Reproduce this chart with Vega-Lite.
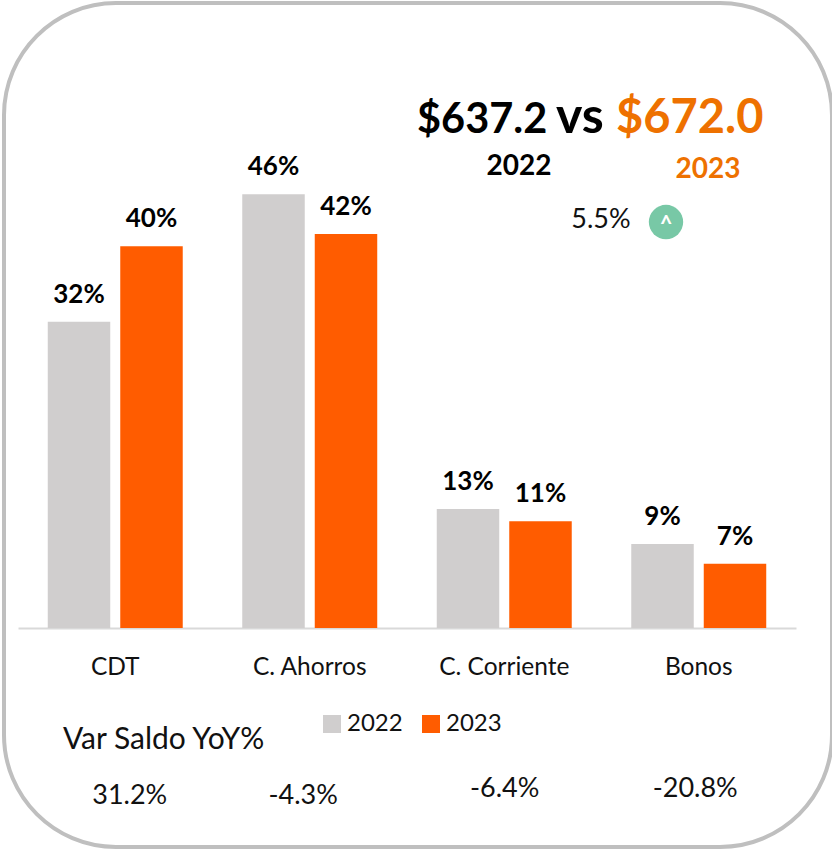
{
"$schema":"https://vega.github.io/schema/vega-lite/v6.json",
"autosize":"none","width":828,"height":844,
"padding":{"left":4,"top":3,"right":0,"bottom":3},
"background":"white",
"view":{"stroke":"#BFBFBF","strokeWidth":4,"cornerRadius":112,"fill":"white"},
"config":{"font":"Lato","text":{"font":"Lato"}},
"datasets":{
"shares":[
{"category":"CDT","year":"2022","share":0.324},{"category":"CDT","year":"2023","share":0.404},
{"category":"C. Ahorros","year":"2022","share":0.459},{"category":"C. Ahorros","year":"2023","share":0.417},
{"category":"C. Corriente","year":"2022","share":0.126},{"category":"C. Corriente","year":"2023","share":0.113},
{"category":"Bonos","year":"2022","share":0.089},{"category":"Bonos","year":"2023","share":0.068}],
"yoy":[{"category":"CDT","yoy":"31.2%"},{"category":"C. Ahorros","yoy":"-4.3%"},{"category":"C. Corriente","yoy":"-6.4%"},{"category":"Bonos","yoy":"-20.8%"}]
},
"resolve":{"scale":{"x":"independent"}},
"layer":[
{"data":{"name":"shares"},
 "encoding":{
  "x":{"field":"category","type":"nominal","sort":null,"scale":{"domain":["CDT","C. Ahorros","C. Corriente","Bonos"],"range":[14,792],"paddingInner":0.306,"paddingOuter":0.153},
   "axis":{"title":null,"offset":-219,"ticks":false,"domainColor":"#D9D9D9","domainWidth":2,"labelAngle":0,"labelFontSize":24.5,"labelColor":"#111111","labelPadding":27,"labelFont":"Lato","grid":false}},
  "xOffset":{"field":"year","type":"nominal","scale":{"domain":["2022","2023"],"paddingInner":0.138,"paddingOuter":0}},
  "y":{"field":"share","type":"quantitative","scale":{"domain":[-0.23175,0.66138],"range":[844,0],"nice":false,"zero":false},"axis":null}
 },
 "layer":[
  {"mark":{"type":"bar"},"encoding":{"y2":{"datum":0},"color":{"field":"year","type":"nominal","scale":{"domain":["2022","2023"],"range":["#D0CECE","#FF5C00"]},
    "legend":{"title":null,"orient":"none","legendX":316,"legendY":709,"direction":"horizontal","symbolType":"square","symbolSize":324,"symbolStrokeWidth":0,"labelFontSize":24,"labelColor":"#111111","labelFont":"Lato","columns":2,"columnPadding":16,"labelOffset":3}}}},
  {"mark":{"type":"text","fontSize":26,"fontWeight":"bold","color":"#000000","dy":-19,"baseline":"alphabetic"},"encoding":{"text":{"field":"share","type":"quantitative","format":".0%"}}}
 ]},
{"data":{"values":[{"t":"$637.2"}]},"mark":{"type":"text","fontSize":41.5,"fontWeight":"bold","color":"#000000","align":"left","baseline":"alphabetic"},
 "encoding":{"x":{"datum":417,"type":"quantitative","scale":{"domain":[0,832],"range":[-4,828]},"axis":null},"y":{"datum":0.5238,"type":"quantitative","scale":{"domain":[-0.23175,0.66138],"range":[844,0],"nice":false,"zero":false},"axis":null},"text":{"field":"t"}}},
{"data":{"values":[{"t":"vs"}]},"mark":{"type":"text","fontSize":50,"fontWeight":"bold","color":"#000000","align":"left","baseline":"alphabetic"},
 "encoding":{"x":{"datum":556,"type":"quantitative","scale":{"domain":[0,832],"range":[-4,828]},"axis":null},"y":{"datum":0.5238,"type":"quantitative","scale":{"domain":[-0.23175,0.66138],"range":[844,0],"nice":false,"zero":false},"axis":null},"text":{"field":"t"}}},
{"data":{"values":[{"t":"$672.0"}]},"mark":{"type":"text","fontSize":47,"fontWeight":"bold","color":"#EE7100","align":"left","baseline":"alphabetic"},
 "encoding":{"x":{"datum":616,"type":"quantitative","scale":{"domain":[0,832],"range":[-4,828]},"axis":null},"y":{"datum":0.5238,"type":"quantitative","scale":{"domain":[-0.23175,0.66138],"range":[844,0],"nice":false,"zero":false},"axis":null},"text":{"field":"t"}}},
{"data":{"values":[{"t":"2022"}]},"mark":{"type":"text","fontSize":28,"fontWeight":"bold","color":"#000000","baseline":"alphabetic"},
 "encoding":{"x":{"datum":519,"type":"quantitative","scale":{"domain":[0,832],"range":[-4,828]},"axis":null},"y":{"datum":0.4794,"type":"quantitative","scale":{"domain":[-0.23175,0.66138],"range":[844,0],"nice":false,"zero":false},"axis":null},"text":{"field":"t"}}},
{"data":{"values":[{"t":"2023"}]},"mark":{"type":"text","fontSize":28,"fontWeight":"bold","color":"#EE7100","baseline":"alphabetic"},
 "encoding":{"x":{"datum":708,"type":"quantitative","scale":{"domain":[0,832],"range":[-4,828]},"axis":null},"y":{"datum":0.4762,"type":"quantitative","scale":{"domain":[-0.23175,0.66138],"range":[844,0],"nice":false,"zero":false},"axis":null},"text":{"field":"t"}}},
{"data":{"values":[{"t":"5.5%"}]},"mark":{"type":"text","fontSize":27,"color":"#111111","baseline":"alphabetic"},
 "encoding":{"x":{"datum":601,"type":"quantitative","scale":{"domain":[0,832],"range":[-4,828]},"axis":null},"y":{"datum":0.4233,"type":"quantitative","scale":{"domain":[-0.23175,0.66138],"range":[844,0],"nice":false,"zero":false},"axis":null},"text":{"field":"t"}}},
{"data":{"values":[{"t":"up"}]},"mark":{"type":"point","shape":"circle","filled":true,"size":1180,"opacity":1,"color":"#78C8A6"},
 "encoding":{"x":{"datum":666,"type":"quantitative","scale":{"domain":[0,832],"range":[-4,828]},"axis":null},"y":{"datum":0.4296,"type":"quantitative","scale":{"domain":[-0.23175,0.66138],"range":[844,0],"nice":false,"zero":false},"axis":null}}},
{"data":{"values":[{"t":"^"}]},"mark":{"type":"text","fontSize":22,"fontWeight":"bold","color":"#FFFFFF","baseline":"alphabetic"},
 "encoding":{"x":{"datum":666,"type":"quantitative","scale":{"domain":[0,832],"range":[-4,828]},"axis":null},"y":{"datum":0.4191,"type":"quantitative","scale":{"domain":[-0.23175,0.66138],"range":[844,0],"nice":false,"zero":false},"axis":null},"text":{"field":"t"}}},
{"data":{"values":[{"t":"Var Saldo YoY%"}]},"mark":{"type":"text","fontSize":30,"color":"#111111","align":"left","baseline":"alphabetic"},
 "encoding":{"x":{"datum":63,"type":"quantitative","scale":{"domain":[0,832],"range":[-4,828]},"axis":null},"y":{"datum":-0.128,"type":"quantitative","scale":{"domain":[-0.23175,0.66138],"range":[844,0],"nice":false,"zero":false},"axis":null},"text":{"field":"t"}}},
{"data":{"name":"yoy"},"transform":[{"filter":"datum.category==='CDT'"}],"mark":{"type":"text","fontSize":27,"color":"#111111","baseline":"alphabetic","dx":14.5},
 "encoding":{"x":{"field":"category","type":"nominal","sort":null,"scale":{"domain":["CDT","C. Ahorros","C. Corriente","Bonos"],"range":[14,792],"paddingInner":0.306,"paddingOuter":0.153},"axis":null},"y":{"datum":-0.1862,"type":"quantitative","scale":{"domain":[-0.23175,0.66138],"range":[844,0],"nice":false,"zero":false},"axis":null},"text":{"field":"yoy"}}},
{"data":{"name":"yoy"},"transform":[{"filter":"datum.category==='C. Ahorros'"}],"mark":{"type":"text","fontSize":27,"color":"#111111","baseline":"alphabetic","dx":-6.5},
 "encoding":{"x":{"field":"category","type":"nominal","sort":null,"scale":{"domain":["CDT","C. Ahorros","C. Corriente","Bonos"],"range":[14,792],"paddingInner":0.306,"paddingOuter":0.153},"axis":null},"y":{"datum":-0.1862,"type":"quantitative","scale":{"domain":[-0.23175,0.66138],"range":[844,0],"nice":false,"zero":false},"axis":null},"text":{"field":"yoy"}}},
{"data":{"name":"yoy"},"transform":[{"filter":"datum.category==='C. Corriente'"}],"mark":{"type":"text","fontSize":27,"color":"#111111","baseline":"alphabetic","dx":0.5},
 "encoding":{"x":{"field":"category","type":"nominal","sort":null,"scale":{"domain":["CDT","C. Ahorros","C. Corriente","Bonos"],"range":[14,792],"paddingInner":0.306,"paddingOuter":0.153},"axis":null},"y":{"datum":-0.1788,"type":"quantitative","scale":{"domain":[-0.23175,0.66138],"range":[844,0],"nice":false,"zero":false},"axis":null},"text":{"field":"yoy"}}},
{"data":{"name":"yoy"},"transform":[{"filter":"datum.category==='Bonos'"}],"mark":{"type":"text","fontSize":27,"color":"#111111","baseline":"alphabetic","dx":-3.5},
 "encoding":{"x":{"field":"category","type":"nominal","sort":null,"scale":{"domain":["CDT","C. Ahorros","C. Corriente","Bonos"],"range":[14,792],"paddingInner":0.306,"paddingOuter":0.153},"axis":null},"y":{"datum":-0.1788,"type":"quantitative","scale":{"domain":[-0.23175,0.66138],"range":[844,0],"nice":false,"zero":false},"axis":null},"text":{"field":"yoy"}}}
]
}
